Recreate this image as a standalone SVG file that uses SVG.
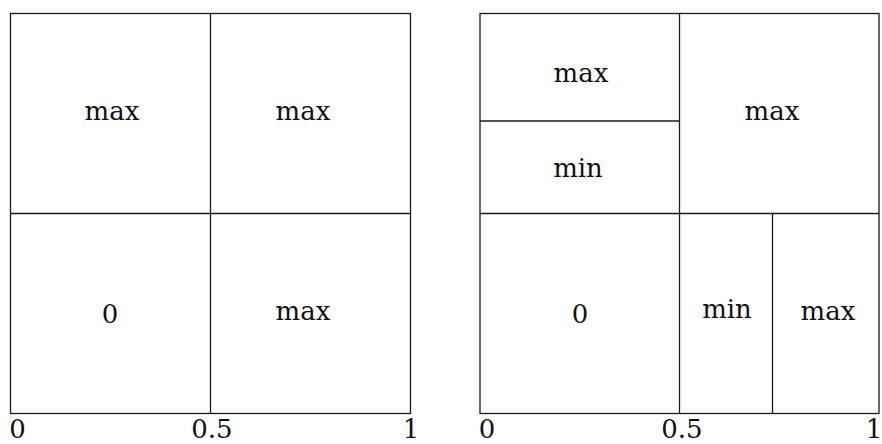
<svg xmlns="http://www.w3.org/2000/svg" width="882" height="444" viewBox="0 0 882 444">
<style>
.b{fill:none;stroke:#1a1a1a;stroke-width:1.3}
.t{font-size:26px;fill:#111;text-anchor:middle}
</style>
<rect width="882" height="444" fill="#fff"/>
<g id="left" font-family="DejaVu Serif, Liberation Serif, serif">
<rect class="b" x="10.5" y="13.5" width="400" height="400"/>
<line class="b" x1="210.5" y1="13.5" x2="210.5" y2="413.5"/>
<line class="b" x1="10.5" y1="213.5" x2="410.5" y2="213.5"/>
<text class="t" x="112" y="120">max</text>
<text class="t" x="303" y="120">max</text>
<text class="t" x="110" y="323">0</text>
<text class="t" x="303" y="320">max</text>
</g>
<g id="right" font-family="DejaVu Serif, Liberation Serif, serif">
<rect class="b" x="480" y="13.5" width="399" height="400"/>
<line class="b" x1="679.5" y1="13.5" x2="679.5" y2="413.5"/>
<line class="b" x1="480" y1="213.5" x2="879" y2="213.5"/>
<line class="b" x1="480" y1="121" x2="679.5" y2="121"/>
<line class="b" x1="772.5" y1="213.5" x2="772.5" y2="413.5"/>
<text class="t" x="581" y="82">max</text>
<text class="t" x="578" y="177">min</text>
<text class="t" x="772" y="120">max</text>
<text class="t" x="580" y="323">0</text>
<text class="t" x="727" y="318">min</text>
<text class="t" x="828" y="320">max</text>
</g>
<g id="axes" font-family="DejaVu Serif, Liberation Serif, serif">
<text class="t" x="17.5" y="438">0</text>
<text class="t" x="212" y="438">0.5</text>
<text class="t" x="411" y="438">1</text>
<text class="t" x="487" y="438">0</text>
<text class="t" x="682" y="438">0.5</text>
<text class="t" x="874" y="438">1</text>
</g>
</svg>
